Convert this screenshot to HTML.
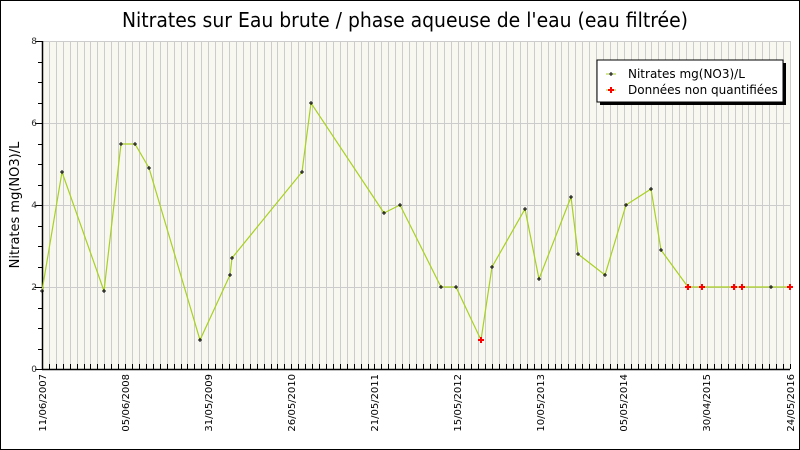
<!DOCTYPE html>
<html><head><meta charset="utf-8"><style>
html,body{margin:0;padding:0;background:#fff}
svg{display:block}
text{font-family:"DejaVu Sans","Liberation Sans",sans-serif}
</style></head><body>
<svg id="s" width="800" height="450" xmlns="http://www.w3.org/2000/svg">
<rect x="0.5" y="0.5" width="799" height="449" fill="#fff" stroke="#000"/>
<text x="122" y="27" font-size="20" textLength="566" lengthAdjust="spacingAndGlyphs" fill="#000">Nitrates sur Eau brute / phase aqueuse de l'eau (eau filtrée)</text>
<rect x="42" y="41" width="748" height="328" fill="#f8f8f0"/>
<g id="grid"></g>
<g id="axes"></g>
<text transform="translate(19,205) rotate(-90)" font-size="13" text-anchor="middle">Nitrates mg(NO3)/L</text>
<g font-size="9" fill="#333" text-anchor="end">
<text x="37" y="372">0</text><text x="37" y="290">2</text><text x="37" y="208">4</text><text x="37" y="126">6</text><text x="37" y="44">8</text>
</g>
<g font-size="10" fill="#000" text-anchor="end">
<text transform="translate(46,374) rotate(-90)">11/06/2007</text>
<text transform="translate(129,374) rotate(-90)">05/06/2008</text>
<text transform="translate(212,374) rotate(-90)">31/05/2009</text>
<text transform="translate(295,374) rotate(-90)">26/05/2010</text>
<text transform="translate(378,374) rotate(-90)">21/05/2011</text>
<text transform="translate(461,374) rotate(-90)">15/05/2012</text>
<text transform="translate(544,374) rotate(-90)">10/05/2013</text>
<text transform="translate(627,374) rotate(-90)">05/05/2014</text>
<text transform="translate(710,374) rotate(-90)">30/04/2015</text>
<text transform="translate(794,374) rotate(-90)">24/05/2016</text>
</g>
<polyline fill="none" stroke="#a8d020" stroke-width="1.2" points="42,291 62,172 104,291 121,144 135,144 149,168 200,340 230,275 232,258 302,172 311,103 384,213 400,205 441,287 456,287 481,340 492,267 525,209 539,279 571,197 578,254 605,275 626,205 651,189 661,250 688,287 702,287 734,287 742,287 771,287 790,287"/>
<g id="pts"></g>
<rect x="600" y="63" width="186" height="42" fill="#000"/>
<rect x="597" y="60" width="186" height="42" fill="#fff" stroke="#000"/>
<line x1="606" y1="74" x2="616" y2="74" stroke="#a8d020"/>
<path d="M609 74h4M611 72v4" stroke="#000"/>
<line x1="606" y1="90" x2="616" y2="90" stroke="#a8d020"/>
<path d="M608 90h6M611 87v6" stroke="#f00" stroke-width="2"/>
<text x="628" y="78" font-size="12">Nitrates mg(NO3)/L</text>
<text x="628" y="94" font-size="12">Données non quantifiées</text>
</svg>
<script>
var ns="http://www.w3.org/2000/svg",g=document.getElementById('grid'),a=document.getElementById('axes'),p=document.getElementById('pts');
function L(par,x1,y1,x2,y2,c,w){var l=document.createElementNS(ns,'line');l.setAttribute('x1',x1);l.setAttribute('y1',y1);l.setAttribute('x2',x2);l.setAttribute('y2',y2);l.setAttribute('stroke',c);l.setAttribute('stroke-width',w||1);par.appendChild(l);}
for(var i=1;i<=108;i++){var x=Math.round(42+i*748/108)+0.5;L(g,x,41,x,369,'#cccccc');L(a,x,364,x,369,'#000');}
for(var v=2;v<=8;v+=2){var y=369-v*41+0.5;L(g,42,y,790,y,'#cccccc');}
for(var v=0;v<=16;v++){var y=Math.round(369-v*20.5)+0.5;L(a,42,y,v%4==0?35:38,y,'#000');}
L(a,42.5,41,42.5,370,'#000',1.5);L(a,42,369.5,790,369.5,'#000',1.5);
var pts=[[42,291],[62,172],[104,291],[121,144],[135,144],[149,168],[200,340],[230,275],[232,258],[302,172],[311,103],[384,213],[400,205],[441,287],[456,287],[481,340,1],[492,267],[525,209],[539,279],[571,197],[578,254],[605,275],[626,205],[651,189],[661,250],[688,287,1],[702,287,1],[734,287,1],[742,287,1],[771,287],[790,287,1]];
pts.forEach(function(q){var r=q[2];var c=r?'#f00':'#000',d=r?3:2,w=r?2:1;L(p,q[0]-d,q[1],q[0]+d,q[1],c,w);L(p,q[0],q[1]-d,q[0],q[1]+d,c,w);});
</script>
</body></html>
